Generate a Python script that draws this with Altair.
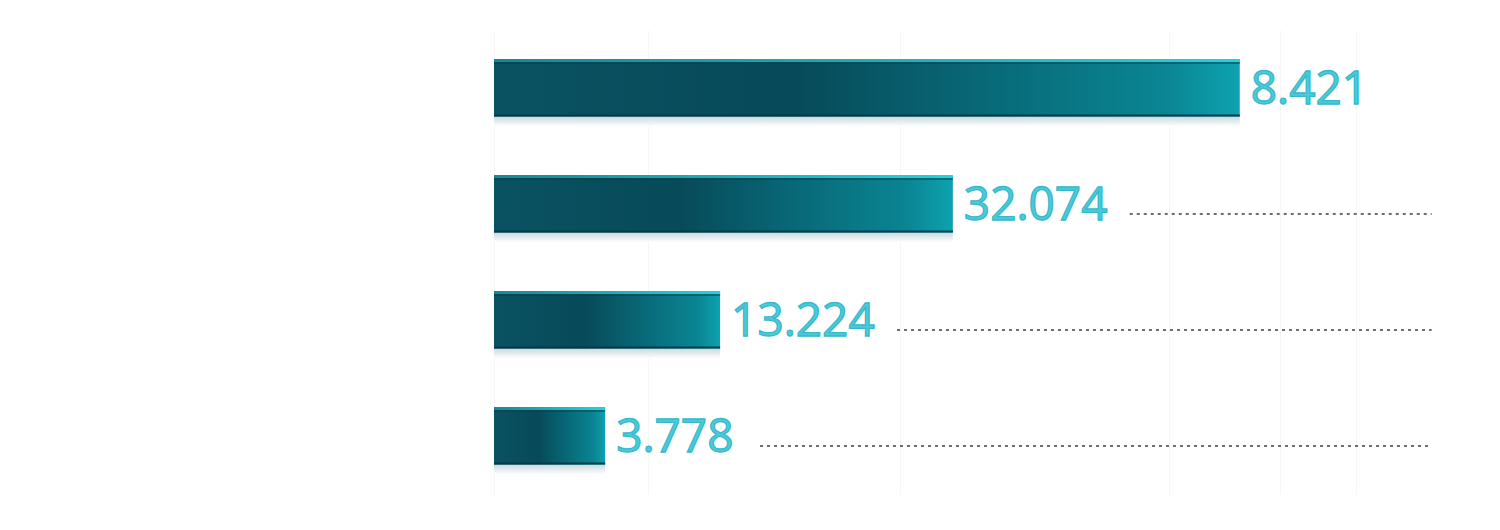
import altair as alt
import pandas as pd

# ---- data ----
rows = ["r1", "r2", "r3", "r4"]
bar_lengths = [78.5, 48.3, 23.8, 11.7]          # bar length, % of the axis span
value_labels = ["8.421", "32.074", "13.224", "3.778"]
grid_values = [0, 16.2, 42.7, 71.1, 82.7, 90.7]

df = pd.DataFrame({"row": rows, "length": bar_lengths, "label": value_labels})

x = alt.X(
    "length:Q",
    scale=alt.Scale(domain=[0, 100], nice=False, zero=True),
    axis=alt.Axis(values=grid_values, grid=True, gridColor="#f6f6f6",
                  domain=False, ticks=False, labels=False, title=None),
)
y = alt.Y("row:N", sort=rows,
          scale=alt.Scale(paddingInner=0.51, paddingOuter=0.255), axis=None)

body_grad = alt.Gradient(
    gradient="linear", x1=0, y1=0, x2=1, y2=0,
    stops=[
        alt.GradientStop(offset=0, color="#0a5262"),
        alt.GradientStop(offset=0.4, color="#074a59"),
        alt.GradientStop(offset=0.9, color="#0a8593"),
        alt.GradientStop(offset=1, color="#0ea2b0"),
    ],
)
top_grad = alt.Gradient(
    gradient="linear", x1=0, y1=0, x2=1, y2=0,
    stops=[
        alt.GradientStop(offset=0, color="#138a98"),
        alt.GradientStop(offset=1, color="#1ad6e2"),
    ],
)
shadow_grad = alt.Gradient(
    gradient="linear", x1=0, y1=0, x2=0, y2=1,
    stops=[
        alt.GradientStop(offset=0, color="#c4d6db"),
        alt.GradientStop(offset=1, color="#ffffff"),
    ],
)

base = alt.Chart(df)

shadow = base.mark_bar(size=11, yOffset=33, fill=shadow_grad).encode(x=x, y=y)
body = base.mark_bar(fill=body_grad).encode(x=x, y=y)
bottom_edge = base.mark_bar(size=2, yOffset=27.5, color="#053a46").encode(x=x, y=y)
top_dark = base.mark_bar(size=1.5, yOffset=-25, color="#04404e", opacity=0.7).encode(x=x, y=y)
top_hi = base.mark_bar(size=3, yOffset=-27.5, fill=top_grad).encode(x=x, y=y)

labels = base.mark_text(
    align="left", baseline="middle", dx=11, dy=2,
    fontSize=46, font="Open Sans", fontWeight="normal",
    color="#4ccad9", stroke="#36bacb", strokeWidth=1.3,
).encode(x=x, y=y, text="label:N")

guides = base.transform_calculate(
    guide_start="datum.length + length(datum.label) * 2.32 + 4.7",
    guide_end="98.7",
).transform_filter("datum.guide_start < 90").mark_rule(
    strokeDash=[3, 4], color="#1a1d22", strokeWidth=1.6, opacity=0.85, yOffset=10
).encode(x="guide_start:Q", x2="guide_end:Q", y=y)

chart = alt.layer(shadow, body, bottom_edge, top_dark, top_hi, guides, labels).properties(
    width=950, height=464, background="white",
    padding={"left": 486, "top": 22, "right": 30, "bottom": 10},
).configure_view(strokeWidth=0, stroke="transparent")

chart.save("out.html", embed_options={"renderer": "svg", "actions": False})
